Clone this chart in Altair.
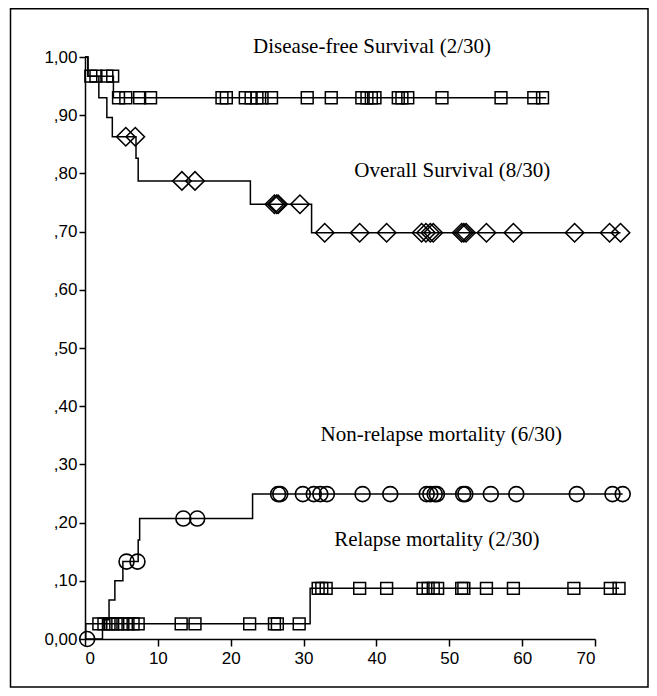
import altair as alt
import pandas as pd

# ---------------- data ----------------
# Disease-free survival (squares)
dfs_event_t = [0.4, 3.9]
dfs_event_v = [0.967, 0.930]
dfs_end_t = 63.3
dfs_cens_t = [0.8, 1.5, 3.0, 3.8, 4.6, 5.6, 7.5, 9.0,
              18.8, 19.4, 22.0, 22.8, 23.6, 24.3, 25.6, 30.5, 33.8,
              38.0, 38.7, 39.3, 39.8, 43.0, 43.5, 44.3, 49.0, 57.1, 61.6, 62.8]

# Overall survival (diamonds)
os_event_t = [0.4, 1.9, 3.0, 3.75, 7.0, 7.3, 22.7, 31.1]
os_event_v = [0.967, 0.930, 0.896, 0.863, 0.826, 0.787, 0.747, 0.698]
os_end_t = 73.5
os_cens_t = [5.6, 6.9, 13.3, 15.1, 26.0, 26.3, 26.5, 29.5, 32.9, 37.7, 41.4,
             46.2, 46.8, 47.4, 47.8, 51.7, 52.0, 52.3, 55.1, 58.8, 67.2, 72.0, 73.5]

# Non-relapse mortality (circles)
nrm_event_t = [2.4, 3.3, 4.1, 5.2, 7.3, 7.5, 23.0]
nrm_event_v = [0.033, 0.067, 0.100, 0.133, 0.170, 0.207, 0.249]
nrm_end_t = 73.8
nrm_cens_t = [0.3, 5.7, 7.2, 13.5, 15.4, 26.5, 26.8, 29.9, 31.4, 32.3, 33.2, 38.1,
              41.9, 46.9, 47.4, 48.0, 48.3, 51.9, 52.2, 55.7, 59.2, 67.5, 72.4, 73.8]

# Relapse mortality (squares)
rm_event_t = [0.1, 30.9]
rm_event_v = [0.026, 0.087]
rm_end_t = 73.3
rm_cens_t = [1.9, 2.6, 3.3, 3.8, 4.5, 5.2, 5.9, 6.6, 7.3, 13.2, 15.1, 22.6, 26.0, 26.4,
             29.4, 32.0, 32.5, 33.1, 37.7, 41.4, 46.4, 47.1, 47.8, 48.4, 51.7, 52.0,
             55.1, 58.8, 67.1, 72.1, 73.3]

# annotations
label_text = ["Disease-free Survival (2/30)", "Overall Survival (8/30)",
              "Non-relapse mortality (6/30)", "Relapse mortality (2/30)"]
label_t = [39.4, 50.4, 48.9, 48.3]
label_v = [1.017, 0.804, 0.351, 0.170]

x_ticks = [0, 10, 20, 30, 40, 50, 60, 70]
y_ticks = [0.0, 0.1, 0.2, 0.3, 0.4, 0.5, 0.6, 0.7, 0.8, 0.9, 1.0]

# ---------------- tables ----------------
def steps(name, start, ev_t, ev_v, end_t):
    rows = [{"series": name, "t": 0.0, "v": start}]
    rows += [{"series": name, "t": t, "v": v} for t, v in zip(ev_t, ev_v)]
    rows.append({"series": name, "t": end_t, "v": ev_v[-1]})
    return rows

def level(t, start, ev_t, ev_v):
    v = start
    for et, ev in zip(ev_t, ev_v):
        if t >= et:
            v = ev
    return v

def cens(name, start, ev_t, ev_v, ct):
    return [{"series": name, "t": t, "v": level(t, start, ev_t, ev_v)} for t in ct]

lines = pd.DataFrame(
    steps("dfs", 1.0, dfs_event_t, dfs_event_v, dfs_end_t)
    + steps("os", 1.0, os_event_t, os_event_v, os_end_t)
    + steps("nrm", 0.0, nrm_event_t, nrm_event_v, nrm_end_t)
    + steps("rm", 0.0, rm_event_t, rm_event_v, rm_end_t)
)
sq = pd.DataFrame(cens("dfs", 1.0, dfs_event_t, dfs_event_v, dfs_cens_t)
                  + cens("rm", 0.0, rm_event_t, rm_event_v, rm_cens_t))
dia = pd.DataFrame(cens("os", 1.0, os_event_t, os_event_v, os_cens_t))
cir = pd.DataFrame(cens("nrm", 0.0, nrm_event_t, nrm_event_v, nrm_cens_t))
labels = pd.DataFrame({"text": label_text, "t": label_t, "v": label_v})

xscale = alt.Scale(domain=[0, 70], nice=False, zero=False)
yscale = alt.Scale(domain=[0, 1], nice=False, zero=False)

X = alt.X("t:Q", scale=xscale, axis=alt.Axis(
    values=x_ticks, title=None, grid=False, format="d",
    domainColor="black", domainWidth=1.5, tickColor="black", tickWidth=1.5,
    tickSize=7, labelColor="black", labelFont="Liberation Sans",
    labelFontSize=17, labelPadding=4))
Y = alt.Y("v:Q", scale=yscale, axis=alt.Axis(
    values=y_ticks, title=None, grid=False,
    labelExpr="datum.value >= 1 ? '1,00' : datum.value == 0 ? '0,00' : replace(format(datum.value, '.2f'), '0.', ',')",
    domainColor="black", domainWidth=1.5, tickColor="black", tickWidth=1.5,
    tickSize=6, labelColor="black", labelFont="Liberation Sans",
    labelFontSize=17, labelPadding=2))

line_layer = alt.Chart(lines).mark_line(
    interpolate="step-after", color="black", strokeWidth=1.5, clip=False
).encode(x=X, y=Y, detail="series:N", order="t:Q")

sq_layer = alt.Chart(sq).mark_point(
    shape="square", filled=False, size=140, color="black", strokeWidth=1.5,
    opacity=1, clip=False
).encode(x="t:Q", y="v:Q")

dia_layer = alt.Chart(dia).mark_point(
    shape="diamond", filled=False, size=340, color="black", strokeWidth=1.6,
    opacity=1, clip=False
).encode(x="t:Q", y="v:Q")

cir_layer = alt.Chart(cir).mark_point(
    shape="circle", filled=False, size=225, color="black", strokeWidth=1.6,
    opacity=1, clip=False
).encode(x="t:Q", y="v:Q")

text_layer = alt.Chart(labels).mark_text(
    font="Liberation Serif", fontSize=21, color="black", align="center",
    baseline="middle", clip=False
).encode(x="t:Q", y="v:Q", text="text:N")

frame = alt.Chart(alt.Data(values=[{"a": 1}])).mark_rect(
    fill=None, stroke="black", strokeWidth=1.5, clip=False
).encode(x=alt.value(-74.5), x2=alt.value(563), y=alt.value(-48.3), y2=alt.value(630))

chart = alt.layer(frame, line_layer, sq_layer, dia_layer, cir_layer, text_layer).properties(
    width=510, height=582,
    autosize=alt.AutoSizeParams(type="none"),
    padding={"left": 77, "top": 49, "right": 54, "bottom": 49},
    background="white",
).configure_view(stroke=None)

chart.save("out.html", embed_options={"renderer": "svg", "actions": False})
